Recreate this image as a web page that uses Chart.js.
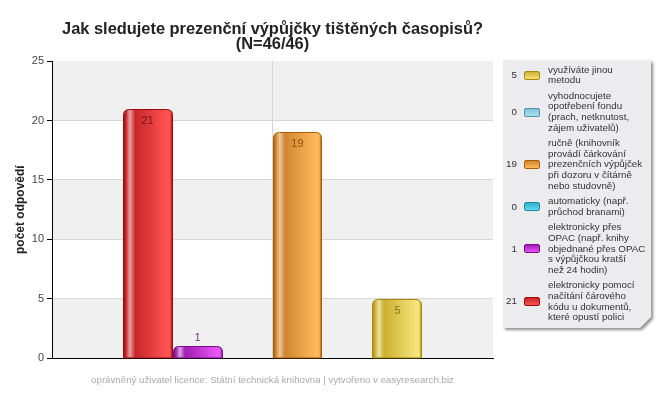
<!DOCTYPE html>
<html>
<head>
<meta charset="utf-8">
<script src="https://cdn.jsdelivr.net/npm/chart.js@4"></script>
<style>
  html, body { margin: 0; padding: 0; background: #fff; }
  body { width: 660px; height: 400px; position: relative; overflow: hidden; font-family: "Liberation Sans", Arial, sans-serif; }
  #wrap { position: absolute; left: 0; top: 0; width: 545px; height: 400px; }
  #legendWrap { position: absolute; left: 503px; top: 60px; width: 148px; height: 268px;
    filter: drop-shadow(2px 2px 1.5px rgba(0,0,0,0.45)); }
  #legend { width: 148px; height: 268px; background: #ececee; box-sizing: border-box; padding-top: 4.7px;
    clip-path: polygon(0 0, 100% 0, 100% calc(100% - 11px), calc(100% - 11px) 100%, 0 100%); }
  .item { display: flex; align-items: center; margin-bottom: 5px; font-size: 9.8px; line-height: 10.6px; color: #333; }
  .count { width: 14px; text-align: right; flex: none; }
  .sw { width: 14px; height: 7px; margin-left: 7px; margin-right: 8px; flex: none; border-radius: 2px; border-width: 1px; border-style: solid; }
  .txt { white-space: nowrap; }
</style>
</head>
<body>
<div id="wrap"><canvas id="c"></canvas></div>
<div id="legendWrap"><div id="legend"></div></div>
<script>
// odpovědi (pořadí sloupců zleva doprava)
const categories = [
  'elektronicky pomocí\nnačítání čárového\nkódu u dokumentů,\nkteré opustí polici',
  'elektronicky přes\nOPAC (např. knihy\nobjednané přes OPAC\ns výpůjčkou kratší\nnež 24 hodin)',
  'automaticky (např.\nprůchod branami)',
  'ručně (knihovník\nprovádí čárkování\nprezenčních výpůjček\npři dozoru v čítárně\nnebo studovně)',
  'vyhodnocujete\nopotřebení fondu\n(prach, netknutost,\nzájem uživatelů)',
  'využíváte jinou\nmetodu'
]
const counts = [21, 1, 0, 19, 0, 5]
const yTicks = [0, 5, 10, 15, 20, 25]

// barvy sloupců: okraj, základ, odlesk, světlá strana, popisek
const palette = [
  { edge: '#9a0c0c', base: '#c8262a', hi: '#e6a2a2', bright: '#ff5252', label: '#7a1212' },
  { edge: '#7a0a8a', base: '#a21cb2', hi: '#d8a4e0', bright: '#e655f5', label: '#7a2a8a' },
  { edge: '#1a8aa0', base: '#30b0c8', hi: '#a0e0ea', bright: '#60d8f0', label: '#1a6a80' },
  { edge: '#a85e08', base: '#d08530', hi: '#ecc89c', bright: '#ffb95a', label: '#8a5210' },
  { edge: '#4a90a8', base: '#80c0d4', hi: '#d0eaf0', bright: '#a8e0f0', label: '#3a7088' },
  { edge: '#a88a10', base: '#cdb030', hi: '#ece0a8', bright: '#f5e47a', label: '#8a7418' }
]

Chart.defaults.font.family = '"Liberation Sans", Arial, sans-serif'

// střídavé pruhy v ploše grafu
const bands = {
  id: 'bands',
  beforeDraw (chart) {
    const { ctx, chartArea: a, scales: { y } } = chart
    ctx.save()
    for (let i = 0; i < yTicks.length - 1; i++) {
      if ((yTicks.length - 2 - i) % 2 !== 0) continue
      const t = y.getPixelForValue(yTicks[i + 1])
      const b = y.getPixelForValue(yTicks[i])
      ctx.fillStyle = '#f0f0f0'
      ctx.fillRect(a.left, t, a.right - a.left, b - t)
    }
    ctx.restore()
  }
}

// sloupce s "válcovým" přechodem a hodnotou
const glassBars = {
  id: 'glassBars',
  afterDatasetsDraw (chart) {
    const ctx = chart.ctx
    chart.data.datasets.forEach((ds, i) => {
      const p = palette[i]
      chart.getDatasetMeta(i).data.forEach((el, j) => {
        const v = ds.data[j]
        if (!v) return
        const l = Math.round(el.x - el.width / 2) + 0.5
        const r = Math.round(el.x + el.width / 2) - 0.5
        const top = Math.round(el.y) + 0.5
        const bot = el.base
        const rad = Math.min(6, (bot - top) / 2)
        const g = ctx.createLinearGradient(l, 0, r, 0)
        g.addColorStop(0, p.edge)
        g.addColorStop(0.05, p.base)
        g.addColorStop(0.13, p.hi)
        g.addColorStop(0.24, p.base)
        g.addColorStop(0.88, p.bright)
        g.addColorStop(0.95, p.bright)
        g.addColorStop(1, p.edge)
        ctx.save()
        ctx.beginPath()
        ctx.moveTo(l, bot)
        ctx.lineTo(l, top + rad)
        ctx.quadraticCurveTo(l, top, l + rad, top)
        ctx.lineTo(r - rad, top)
        ctx.quadraticCurveTo(r, top, r, top + rad)
        ctx.lineTo(r, bot)
        ctx.closePath()
        ctx.fillStyle = g
        ctx.fill()
        ctx.strokeStyle = p.edge
        ctx.lineWidth = 1
        ctx.stroke()
        ctx.font = '11px "Liberation Sans", Arial, sans-serif'
        ctx.fillStyle = p.label
        ctx.textAlign = 'center'
        ctx.textBaseline = 'middle'
        const ly = (bot - top) > 22 ? top + 11 : top - 9
        ctx.fillText(String(v), el.x, ly)
        ctx.restore()
      })
    })
  }
}

const chart = new Chart(document.getElementById('c'), {
  type: 'bar',
  data: {
    labels: [''],
    datasets: categories.map((c, i) => ({
      label: c.replace(/\n/g, ' '),
      data: [counts[i]],
      backgroundColor: 'rgba(0,0,0,0)',
      borderWidth: 0,
      categoryPercentage: 0.68,
      barPercentage: 1
    }))
  },
  options: {
    responsive: true,
    maintainAspectRatio: false,
    animation: false,
    layout: { padding: 0 },
    plugins: {
      legend: { display: false },
      tooltip: { enabled: false },
      title: {
        display: true,
        text: ['Jak sledujete prezenční výpůjčky tištěných časopisů?', '(N=46/46)'],
        color: '#222',
        font: { size: 16.4, weight: 'bold', lineHeight: '15px' },
        padding: { top: 21.5, bottom: 9.5 }
      },
      subtitle: {
        display: true,
        position: 'bottom',
        text: 'oprávněný uživatel licence: Státní technická knihovna | vytvořeno v easyresearch.biz',
        color: '#aaa',
        font: { size: 9.7 },
        padding: { top: 16, bottom: 14 }
      }
    },
    scales: {
      x: {
        ticks: { display: false },
        grid: { offset: false, color: '#d6d6d6', drawTicks: false },
        border: { color: '#000', width: 1 }
      },
      y: {
        min: yTicks[0],
        max: yTicks[yTicks.length - 1],
        ticks: { stepSize: yTicks[1] - yTicks[0], color: '#444', font: { size: 11 }, padding: 3 },
        grid: {
          color: (c) => c.tick && c.tick.value === yTicks[yTicks.length - 1] ? 'rgba(0,0,0,0)' : '#d6d6d6',
          tickColor: '#000',
          tickLength: 5
        },
        border: { color: '#000', width: 1 },
        title: {
          display: true,
          text: 'počet odpovědí',
          color: '#222',
          font: { size: 12, weight: 'bold' },
          padding: { top: 13, bottom: 0 }
        },
        afterFit (scale) { scale.width = 52 }
      },
      // prázdné místo vpravo, aby nadpis zůstal vystředěný nad plochou
      spacer: {
        type: 'linear',
        position: 'right',
        ticks: { display: false },
        grid: { display: false, drawOnChartArea: false },
        border: { display: false },
        afterFit (scale) { scale.width = 52 }
      }
    }
  },
  plugins: [bands, glassBars]
})

// legenda vpravo (obrácené pořadí)
const legend = document.getElementById('legend')
for (let i = categories.length - 1; i >= 0; i--) {
  const p = palette[i]
  const row = document.createElement('div')
  row.className = 'item'
  row.innerHTML = '<span class="count">' + counts[i] + '</span>' +
    '<span class="sw" style="border-color:' + p.edge + ';background:linear-gradient(' + p.base + ',' + p.bright + ')"></span>' +
    '<span class="txt">' + categories[i].replace(/\n/g, '<br>') + '</span>'
  legend.appendChild(row)
}
</script>
</body>
</html>
